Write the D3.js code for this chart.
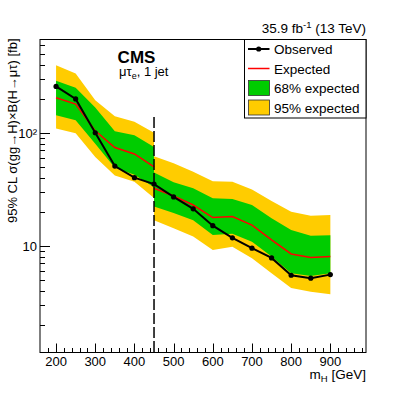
<!DOCTYPE html>
<html>
<head>
<meta charset="utf-8">
<script src="https://cdn.jsdelivr.net/npm/d3@7"></script>
<style>
body { margin: 0; background: #fff; }
text { font-family: "Liberation Sans", Arial, Helvetica, sans-serif; fill: #000; }
</style>
</head>
<body>
<svg width="407" height="393"></svg>
<script>
// low mass analysis (200-450 GeV)
var massLow     = [200, 250, 300, 350, 400, 450];
var exp95UpLow  = [395, 334, 194, 140, 125, 100];
var exp68UpLow  = [288, 250, 167, 103, 95, 75];
var expLow      = [204, 179, 104, 74, 65, 50];
var exp68DnLow  = [143, 129, 80, 49, 42.5, 33];
var exp95DnLow  = [109, 99, 61, 42, 37, 26.5];

// high mass analysis (450-900 GeV)
var massHigh    = [450, 500, 550, 600, 650, 700, 750, 800, 850, 900];
var exp95UpHigh = [62, 53.7, 45.3, 37.3, 36.9, 31.5, 25, 20, 18.5, 18.8];
var exp68UpHigh = [44.5, 36.5, 32.3, 26.4, 26, 23, 17.6, 13.8, 12.3, 12.4];
var expHigh     = [32.3, 27.6, 23, 17.8, 18.2, 15.3, 11.3, 8.5, 7.9, 8.05];
var exp68DnHigh = [22.3, 19.5, 16.9, 12.5, 12.8, 10.9, 8.05, 5.74, 5.43, 5.74];
var exp95DnHigh = [16.9, 14.3, 12.1, 9.2, 9.86, 7.78, 5.74, 4.24, 3.94, 3.75];

// observed limit
var obsMass   = [200, 250, 300, 350, 400, 450, 500, 550, 600, 650, 700, 750, 800, 850, 900];
var obsValues = [257, 199, 100, 50.8, 40.1, 35.2, 27.1, 21.3, 15.1, 11.8, 9.55, 7.84, 5.51, 5.19, 5.58];

var boundaryMass = 450;
var boundaryTop = 138;

var xMajorTicks = [200, 300, 400, 500, 600, 700, 800, 900];
var yMajorTicks = [10, 100];
var yTickLabels = ["10", "10²"];

var legendLabels = ["Observed", "Expected", "68% expected", "95% expected"];

var green = "#00cc00";
var yellow = "#ffcc00";
var red = "#ff0000";

var svg = d3.select("svg");
var plotLeft = 40, plotRight = 366, plotTop = 39.5, plotBottom = 352.5;

var x = d3.scaleLinear().domain([159, 991]).range([plotLeft, plotRight]);
var y = d3.scaleLog().domain([1.144, 667]).range([plotBottom, plotTop]);

function rows(mass, up95, up68, mid, dn68, dn95) {
    return mass.map(function(m, i) {
        return { m: m, up95: up95[i], up68: up68[i], exp: mid[i], dn68: dn68[i], dn95: dn95[i] };
    });
}
var lowRows = rows(massLow, exp95UpLow, exp68UpLow, expLow, exp68DnLow, exp95DnLow);
var highRows = rows(massHigh, exp95UpHigh, exp68UpHigh, expHigh, exp68DnHigh, exp95DnHigh);

var band95 = d3.area()
    .x(function(d) { return x(d.m); })
    .y0(function(d) { return y(d.dn95); })
    .y1(function(d) { return y(d.up95); });
var band68 = d3.area()
    .x(function(d) { return x(d.m); })
    .y0(function(d) { return y(d.dn68); })
    .y1(function(d) { return y(d.up68); });
var expLine = d3.line()
    .x(function(d) { return x(d.m); })
    .y(function(d) { return y(d.exp); });

var plot = svg.append("g");

[lowRows, highRows].forEach(function(r) {
    plot.append("path").datum(r).attr("d", band95).attr("fill", yellow);
    plot.append("path").datum(r).attr("d", band68).attr("fill", green);
});
[lowRows, highRows].forEach(function(r) {
    plot.append("path").datum(r).attr("d", expLine)
        .attr("fill", "none").attr("stroke", red).attr("stroke-width", 1.5);
});

// observed
var obs = obsMass.map(function(m, i) { return [m, obsValues[i]]; });
plot.append("path")
    .datum(obs)
    .attr("fill", "none")
    .attr("stroke", "#000")
    .attr("stroke-width", 2)
    .attr("d", d3.line().x(function(d) { return x(d[0]); }).y(function(d) { return y(d[1]); }));
plot.selectAll("circle.obs")
    .data(obs)
    .enter().append("circle")
    .attr("class", "obs")
    .attr("cx", function(d) { return x(d[0]); })
    .attr("cy", function(d) { return y(d[1]); })
    .attr("r", 2.6)
    .attr("fill", "#000");

// boundary between the two analyses
plot.append("line")
    .attr("x1", x(boundaryMass)).attr("x2", x(boundaryMass))
    .attr("y1", y(boundaryTop)).attr("y2", plotBottom)
    .attr("stroke", "#000")
    .attr("stroke-width", 1.5)
    .attr("stroke-dasharray", "11,3");

// frame
svg.append("rect")
    .attr("x", plotLeft).attr("y", plotTop)
    .attr("width", plotRight - plotLeft).attr("height", plotBottom - plotTop)
    .attr("fill", "none").attr("stroke", "#000").attr("stroke-width", 1);

// x axis ticks
var xMinor = d3.range(180, 990, 20).filter(function(v) { return v % 100 !== 0; });
svg.append("g").selectAll("line")
    .data(xMinor).enter().append("line")
    .attr("x1", function(d) { return Math.round(x(d)) + 0.5; })
    .attr("x2", function(d) { return Math.round(x(d)) + 0.5; })
    .attr("y1", plotBottom).attr("y2", plotBottom - 4.5)
    .attr("stroke", "#000");
svg.append("g").selectAll("line")
    .data(xMajorTicks).enter().append("line")
    .attr("x1", function(d) { return Math.round(x(d)) + 0.5; })
    .attr("x2", function(d) { return Math.round(x(d)) + 0.5; })
    .attr("y1", plotBottom).attr("y2", plotBottom - 9)
    .attr("stroke", "#000");
svg.append("g").selectAll("text")
    .data(xMajorTicks).enter().append("text")
    .attr("x", function(d) { return x(d); })
    .attr("y", plotBottom + 13)
    .attr("text-anchor", "middle")
    .style("font-size", "13px")
    .text(function(d) { return d; });

// y axis ticks
var yMinor = [];
[1, 10, 100].forEach(function(dec) {
    for (var k = 2; k <= 9; k++) {
        var v = k * dec;
        if (v > y.domain()[0] && v < y.domain()[1]) yMinor.push(v);
    }
});
svg.append("g").selectAll("line")
    .data(yMinor).enter().append("line")
    .attr("x1", plotLeft).attr("x2", plotLeft + 5)
    .attr("y1", function(d) { return Math.round(y(d)) + 0.5; })
    .attr("y2", function(d) { return Math.round(y(d)) + 0.5; })
    .attr("stroke", "#000");
svg.append("g").selectAll("line")
    .data(yMajorTicks).enter().append("line")
    .attr("x1", plotLeft).attr("x2", plotLeft + 10)
    .attr("y1", function(d) { return Math.round(y(d)) + 0.5; })
    .attr("y2", function(d) { return Math.round(y(d)) + 0.5; })
    .attr("stroke", "#000");
svg.append("g").selectAll("text")
    .data(yMajorTicks).enter().append("text")
    .attr("x", plotLeft - 3)
    .attr("y", function(d) { return y(d) + 5; })
    .attr("text-anchor", "end")
    .style("font-size", "13px")
    .text(function(d, i) { return yTickLabels[i]; });

// axis titles
svg.append("text")
    .attr("transform", "translate(17," + (plotTop - 1) + ") rotate(-90)")
    .attr("text-anchor", "end")
    .style("font-size", "13px")
    .text("95% CL σ(gg→H)×B(H→μτ) [fb]");

var xt = svg.append("text")
    .attr("x", plotRight).attr("y", 379)
    .attr("text-anchor", "end")
    .style("font-size", "13.5px");
xt.append("tspan").text("m");
xt.append("tspan").attr("dy", 3).style("font-size", "9.5px").text("H");
xt.append("tspan").attr("dy", -3).text(" [GeV]");

// lumi label
var lumi = svg.append("text")
    .attr("x", plotRight).attr("y", 33)
    .attr("text-anchor", "end")
    .style("font-size", "13.5px");
lumi.append("tspan").text("35.9 fb");
lumi.append("tspan").attr("dy", -5).style("font-size", "9.5px").text("-1");
lumi.append("tspan").attr("dy", 5).text(" (13 TeV)");

// CMS label
svg.append("text")
    .attr("x", 136.5).attr("y", 63)
    .attr("text-anchor", "middle")
    .style("font-size", "17px")
    .style("font-weight", "bold")
    .text("CMS");
var chan = svg.append("text")
    .attr("x", 119).attr("y", 76)
    .style("font-size", "13px");
chan.append("tspan").text("μτ");
chan.append("tspan").attr("dy", 3).style("font-size", "9px").text("e");
chan.append("tspan").attr("dy", -3).text(", 1 jet");

// legend
var legend = svg.append("g");
legend.append("rect")
    .attr("x", 244.5).attr("y", plotTop)
    .attr("width", plotRight - 244.5).attr("height", 78.5)
    .attr("fill", "#fff").attr("stroke", "#000").attr("stroke-width", 1);
var rowY = [49, 68.5, 88, 107.5];
legend.append("line")
    .attr("x1", 248).attr("x2", 269.5).attr("y1", rowY[0]).attr("y2", rowY[0])
    .attr("stroke", "#000").attr("stroke-width", 2);
legend.append("circle").attr("cx", 258.7).attr("cy", rowY[0]).attr("r", 2.6).attr("fill", "#000");
legend.append("line")
    .attr("x1", 248).attr("x2", 269.5).attr("y1", rowY[1]).attr("y2", rowY[1])
    .attr("stroke", red).attr("stroke-width", 1.5);
legend.append("rect")
    .attr("x", 248.5).attr("y", rowY[2] - 7.5).attr("width", 21).attr("height", 15)
    .attr("fill", green).attr("stroke", "#333").attr("stroke-width", 0.8);
legend.append("rect")
    .attr("x", 248.5).attr("y", rowY[3] - 7.5).attr("width", 21).attr("height", 15)
    .attr("fill", yellow).attr("stroke", "#333").attr("stroke-width", 0.8);
legend.selectAll("text.lab")
    .data(legendLabels).enter().append("text")
    .attr("class", "lab")
    .attr("x", 274)
    .attr("y", function(d, i) { return rowY[i] + 5; })
    .style("font-size", "13.5px")
    .text(function(d) { return d; });
</script>
</body>
</html>
